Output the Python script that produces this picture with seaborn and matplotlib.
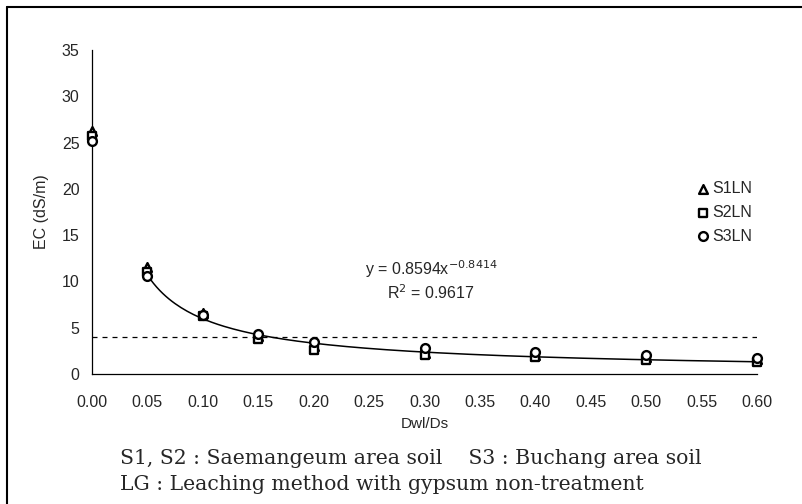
import numpy as np
import pandas as pd
import matplotlib
matplotlib.use("Agg")
import matplotlib.pyplot as plt
import seaborn as sns
from matplotlib.lines import Line2D

# data
x_vals = [0.00, 0.05, 0.10, 0.15, 0.20, 0.30, 0.40, 0.50, 0.60]
s1ln = [26.2, 11.6, 6.6, 4.1, 3.0, 2.3, 2.0, 1.8, 1.6]
s2ln = [25.7, 11.0, 6.3, 3.8, 2.6, 2.0, 1.8, 1.5, 1.3]
s3ln = [25.2, 10.6, 6.4, 4.3, 3.5, 2.8, 2.4, 2.0, 1.7]
fit_a = 0.8594
fit_b = -0.8414
threshold = 4.0
x_ticks = [0.00, 0.05, 0.10, 0.15, 0.20, 0.25, 0.30, 0.35, 0.40, 0.45, 0.50, 0.55, 0.60]
y_ticks = [0, 5, 10, 15, 20, 25, 30, 35]

df = pd.DataFrame({
    "x": x_vals * 3,
    "EC": s1ln + s2ln + s3ln,
    "series": ["S1LN"] * 9 + ["S2LN"] * 9 + ["S3LN"] * 9,
})

sns.set_style("white")
plt.rcParams["font.family"] = ["Liberation Sans", "DejaVu Sans"]

fig = plt.figure(figsize=(8.02, 5.04), dpi=100)
ax = fig.add_axes([92 / 802, 1 - 374 / 504, 665 / 802, 324 / 504])

# threshold line
ax.axhline(threshold, color="black", lw=0.9, ls=(0, (4, 4)), zorder=1)

# fitted power curve
xf = np.linspace(0.05, 0.6, 200)
fit_df = pd.DataFrame({"x": xf, "EC": fit_a * xf ** fit_b})
sns.lineplot(data=fit_df, x="x", y="EC", color="black", lw=1.1, ax=ax, zorder=2)

markers = {"S1LN": "^", "S2LN": "s", "S3LN": "o"}
for name, m in markers.items():
    sub = df[df["series"] == name]
    sns.scatterplot(data=sub, x="x", y="EC", marker=m, s=40, facecolor="white",
                    edgecolor="black", linewidth=1.7, label=name, ax=ax, zorder=3,
                    clip_on=False)

ax.set_xlim(0, 0.6)
ax.set_ylim(0, 35)
ax.set_xticks(x_ticks)
ax.set_xticklabels([f"{t:.2f}" for t in x_ticks], fontsize=11.5)
ax.set_yticks(y_ticks)
ax.set_yticklabels([str(t) for t in y_ticks], fontsize=11.5)
ax.tick_params(axis="x", direction="in", length=4, width=0.8, pad=15)
ax.tick_params(axis="y", direction="in", length=4, width=0.8, pad=9)
ax.set_xlabel("Dwl/Ds", fontsize=11, labelpad=5)
ax.set_ylabel("EC (dS/m)", fontsize=11.5, labelpad=9)
for side in ["top", "right"]:
    ax.spines[side].set_visible(False)
for side in ["left", "bottom"]:
    ax.spines[side].set_color("black")
    ax.spines[side].set_linewidth(0.9)

ax.text(0.51, 0.325, r"y = 0.8594x$^{-0.8414}$", transform=ax.transAxes,
        ha="center", va="center", fontsize=11.5)
ax.text(0.51, 0.25, r"R$^2$ = 0.9617", transform=ax.transAxes,
        ha="center", va="center", fontsize=11.5)

ax.legend(loc="upper left", bbox_to_anchor=(0.895, 0.62), frameon=False,
          fontsize=11.5, handletextpad=0.1, labelspacing=0.55, borderpad=0,
          handlelength=1.0)

# caption
fig.text(120 / 802, 1 - 458 / 504, "S1, S2 : Saemangeum area soil    S3 : Buchang area soil",
         family="DejaVu Serif", fontsize=14.7, va="center")
fig.text(120 / 802, 1 - 485 / 504, "LG : Leaching method with gypsum non-treatment",
         family="DejaVu Serif", fontsize=14.7, va="center")

# scanned page frame (top and left edges)
fig.add_artist(Line2D([7 / 802, 7 / 802], [0, 1 - 7 / 504], transform=fig.transFigure,
                      color="black", lw=1.5))
fig.add_artist(Line2D([7 / 802, 1], [1 - 7 / 504, 1 - 7 / 504], transform=fig.transFigure,
                      color="black", lw=1.5))

fig.savefig("out.png", dpi=100)
